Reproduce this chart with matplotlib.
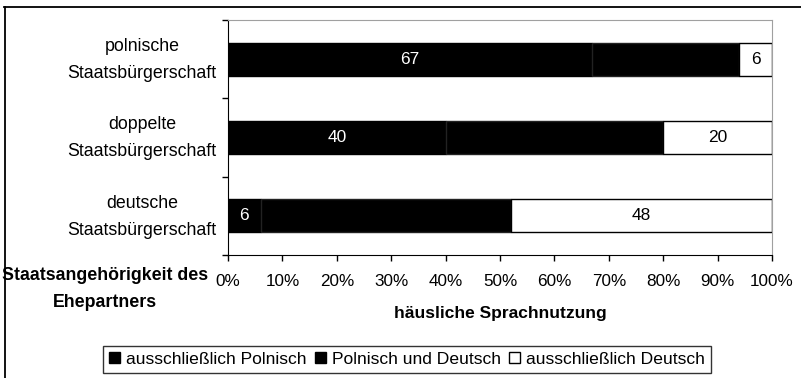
import matplotlib
matplotlib.use("Agg")
import matplotlib.pyplot as plt
from matplotlib.lines import Line2D
from matplotlib.patches import Patch
import numpy as np

plt.rcParams['font.family'] = ['Liberation Sans', 'DejaVu Sans']

# Categories, listed bottom to top
categories = ["deutsche\nStaatsbürgerschaft",
              "doppelte\nStaatsbürgerschaft",
              "polnische\nStaatsbürgerschaft"]
series_names = ["ausschließlich Polnisch", "Polnisch und Deutsch", "ausschließlich Deutsch"]
only_polish = [6, 40, 67]
polish_german = [46, 40, 27]
only_german = [48, 20, 6]
tick_values = [0, 10, 20, 30, 40, 50, 60, 70, 80, 90, 100]
tick_labels = [f"{v}%" for v in tick_values]

W, H = 801, 378
fig = plt.figure(figsize=(W / 100, H / 100), dpi=100)
ax = fig.add_axes([228 / W, 1 - 255 / H, (772 - 228) / W, (255 - 20) / H])

y = np.arange(len(categories))
bar_h = 0.42
ax.barh(y, only_polish, height=bar_h, color="black", edgecolor="black", linewidth=1)
ax.barh(y, polish_german, left=only_polish, height=bar_h, color="black",
        edgecolor="#222222", linewidth=1)
left3 = np.array(only_polish) + np.array(polish_german)
ax.barh(y, only_german, left=left3, height=bar_h, color="white",
        edgecolor="black", linewidth=1)

# value labels
for yi, v in zip(y, only_polish):
    ax.text(v / 2, yi, str(v), color="white", ha="center", va="center", fontsize=12.5)
for yi, l, v in zip(y, left3, only_german):
    ax.text(l + v / 2, yi, str(v), color="black", ha="center", va="center", fontsize=12.5)

ax.set_xlim(0, 100)
ax.set_ylim(-0.5, 2.5)
ax.set_xticks(tick_values)
ax.set_xticklabels(tick_labels, fontsize=12.3)
ax.set_yticks([-0.5, 0.5, 1.5, 2.5])
ax.set_yticklabels([])
ax.tick_params(axis="both", direction="out", length=4, width=1, color="black")
ax.tick_params(axis="x", pad=10)
for yi, c in zip(y, categories):
    ax.text(-0.021, yi - 0.01, c, transform=ax.get_yaxis_transform(), ha="right",
            va="center", fontsize=12.75, linespacing=1.78, multialignment="center")

for s in ["top", "right"]:
    ax.spines[s].set_color("#a0a0a0")
for s in ["left", "bottom"]:
    ax.spines[s].set_color("black")

ax.set_xlabel("häusliche Sprachnutzung", fontsize=12.5, fontweight="bold", labelpad=12)

fig.text(105 / W, 1 - 289 / H, "Staatsangehörigkeit des\nEhepartners", ha="center",
         va="center", fontsize=12.75, fontweight="bold", linespacing=1.72)

# legend
handles = [Patch(facecolor="black", edgecolor="black"),
           Patch(facecolor="black", edgecolor="black"),
           Patch(facecolor="white", edgecolor="black")]
leg = fig.legend(handles, series_names, loc="center", bbox_to_anchor=(407 / W, 1 - 359.5 / H),
                 ncol=3, fontsize=12.6, frameon=True, fancybox=False, edgecolor="black",
                 handlelength=0.6, handleheight=0.6, handletextpad=0.35, columnspacing=0.5,
                 borderpad=0.35, borderaxespad=0)
leg.get_frame().set_linewidth(1)

# outer frame
fig.add_artist(Line2D([4 / W, 1], [1 - 6.5 / H, 1 - 6.5 / H], transform=fig.transFigure,
                      color="black", linewidth=1.3))
fig.add_artist(Line2D([4.5 / W, 4.5 / W], [0, 1 - 6.5 / H], transform=fig.transFigure,
                      color="black", linewidth=1.3))

fig.savefig("out.png", dpi=100)
